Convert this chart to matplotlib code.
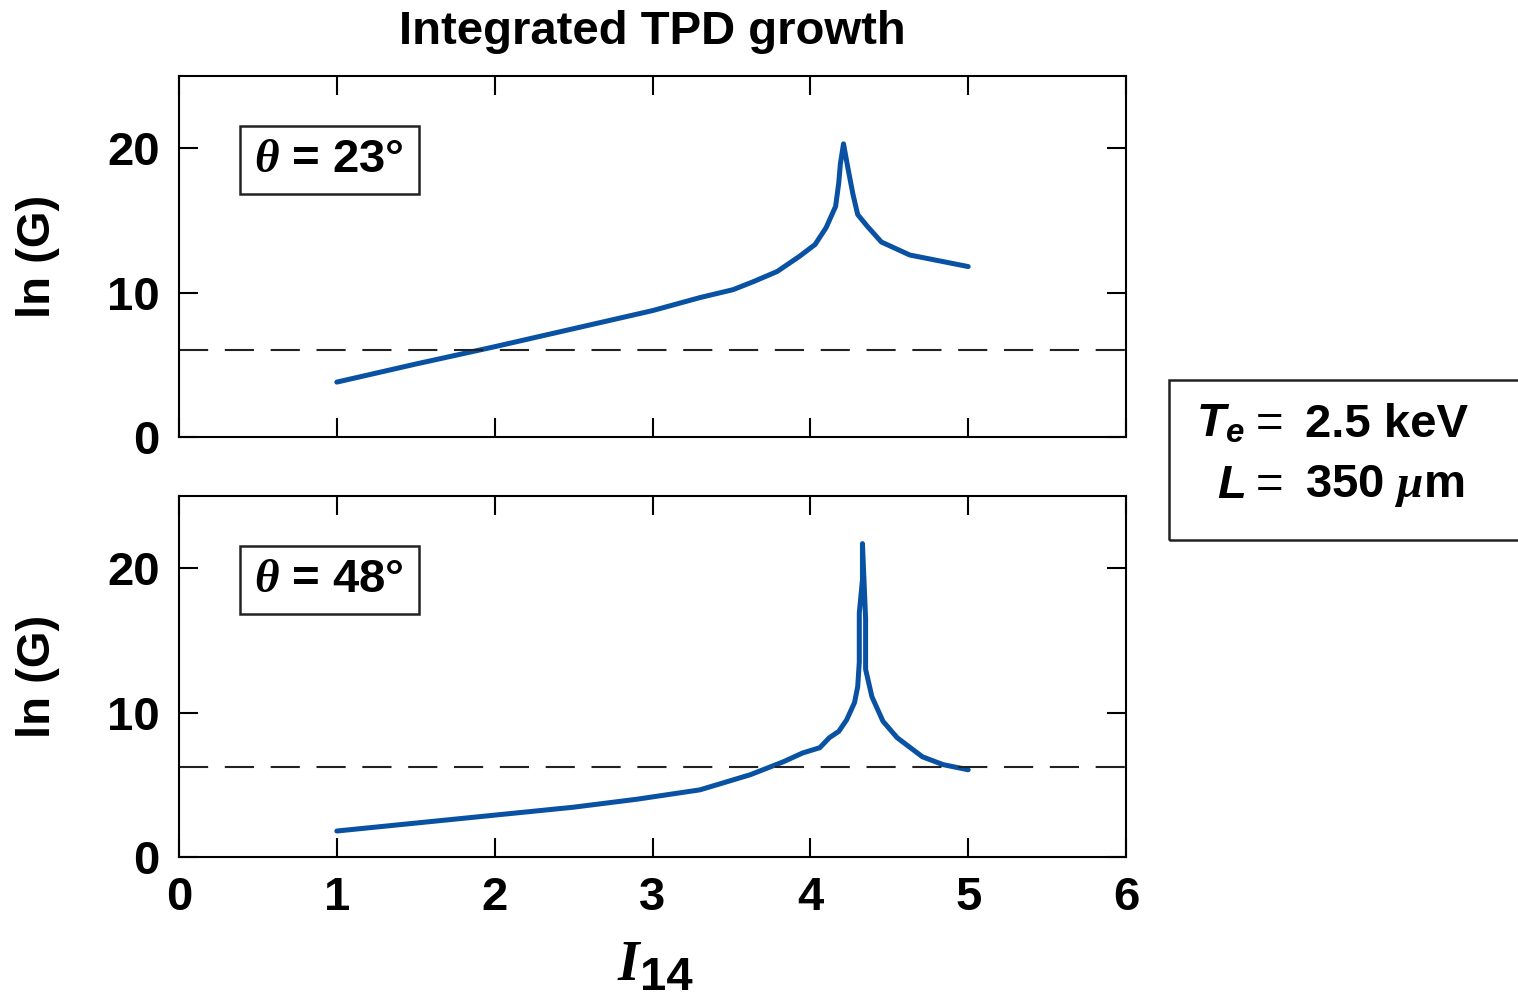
import numpy as np
import matplotlib
matplotlib.use('Agg')
import matplotlib.pyplot as plt
from matplotlib.patches import Rectangle

# Fonts: Helvetica-like bold sans, serif italic for symbols
plt.rcParams['font.family'] = 'Liberation Sans'
plt.rcParams['font.weight'] = 'bold'
plt.rcParams['mathtext.fontset'] = 'custom'
plt.rcParams['mathtext.rm'] = 'Liberation Sans:bold'
plt.rcParams['mathtext.it'] = 'Liberation Serif:italic:bold'
plt.rcParams['mathtext.bf'] = 'Liberation Sans:italic:bold'
plt.rcParams['mathtext.sf'] = 'Liberation Sans:bold'

# Data
i14_23 = [1.0, 1.5, 2.0, 2.5, 3.0, 3.30, 3.51, 3.64, 3.79, 3.93, 4.03, 4.10, 4.16,
          4.18, 4.19, 4.21, 4.24, 4.27, 4.30, 4.36, 4.45, 4.63, 5.0]
lnG_23 = [3.8, 5.05, 6.25, 7.5, 8.75, 9.65, 10.2, 10.76, 11.46, 12.5, 13.33, 14.5, 15.97,
          17.6, 18.9, 20.3, 18.5, 16.8, 15.4, 14.6, 13.5, 12.6, 11.8]

i14_48 = [1.0, 1.5, 2.0, 2.5, 2.9, 3.3, 3.62, 3.83, 3.95, 4.06, 4.12, 4.18, 4.23, 4.28,
          4.30, 4.31, 4.31, 4.33, 4.33, 4.35, 4.35, 4.39, 4.46, 4.55, 4.71, 4.84, 5.0]
lnG_48 = [1.8, 2.35, 2.9, 3.45, 4.0, 4.65, 5.7, 6.6, 7.2, 7.57, 8.26, 8.7, 9.5, 10.7,
          11.8, 13.5, 16.9, 19.2, 21.7, 16.5, 13.0, 11.1, 9.4, 8.26, 6.94, 6.4, 6.04]

thresholds = [6.0, 6.2]
angles = [23, 48]

line_color = '#0851a3'
fs = 34

fig = plt.figure(figsize=(15.18, 10.02), dpi=100)
ax_top = fig.add_axes([0.1179, 0.5639, 0.6239, 0.3603])
ax_bot = fig.add_axes([0.1179, 0.1447, 0.6239, 0.3603])

for ax, x, y, thr, ang in [(ax_top, i14_23, lnG_23, thresholds[0], angles[0]),
                           (ax_bot, i14_48, lnG_48, thresholds[1], angles[1])]:
    ax.plot(x, y, color=line_color, lw=3.6, solid_joinstyle='round',
            solid_capstyle='round')
    ax.axhline(thr, color='#222222', lw=1.5, dashes=(14, 8))
    ax.set_xlim(0, 6)
    ax.set_ylim(0, 25)
    ax.set_xticks(range(7))
    ax.set_yticks([0, 10, 20])
    ax.tick_params(direction='in', length=14, width=1.5, top=True, right=True,
                   labelsize=fs, pad=14)
    for s in ax.spines.values():
        s.set_linewidth(1.5)
    ax.add_patch(Rectangle((0.0644, 0.673), 0.189, 0.188, transform=ax.transAxes,
                           fill=False, lw=1.8, ec='#222222'))
    ax.text(0.158, 0.767, r'$\theta$ = %d°' % ang, transform=ax.transAxes,
            ha='center', va='center', fontsize=fs)
    fig.text(0.025, ax.get_position().y0 + ax.get_position().height / 2, 'ln (G)',
             rotation=90, ha='center', va='center', fontsize=fs)

ax_top.tick_params(labelbottom=False)

fig.text(0.4296, 0.968, 'Integrated TPD growth', ha='center', va='center', fontsize=fs)
# x label: serif italic I with sans subscript 14
fig.text(0.4236, 0.036, r'$I$', ha='right', va='center', fontsize=fs + 6)
fig.text(0.4216, 0.024, '14', ha='left', va='center', fontsize=fs)

# Parameter box on the right
fig.patches.append(Rectangle((0.770, 0.461), 0.26, 0.160, transform=fig.transFigure,
                             fill=False, lw=1.8, ec='#222222'))
fig.text(0.820, 0.576, r'$\mathbf{T}_\mathbf{e}$', ha='right', va='center', fontsize=fs)
fig.text(0.820, 0.515, r'$\mathbf{L}$', ha='right', va='center', fontsize=fs)
fig.text(0.8366, 0.576, '=', ha='center', va='center', fontsize=fs, fontweight='normal')
fig.text(0.8366, 0.515, '=', ha='center', va='center', fontsize=fs, fontweight='normal')
fig.text(0.8597, 0.576, '2.5 keV', ha='left', va='center', fontsize=fs)
fig.text(0.8597, 0.515, r'350 $\mu$m', ha='left', va='center', fontsize=fs)

fig.savefig('out.png', dpi=100)
